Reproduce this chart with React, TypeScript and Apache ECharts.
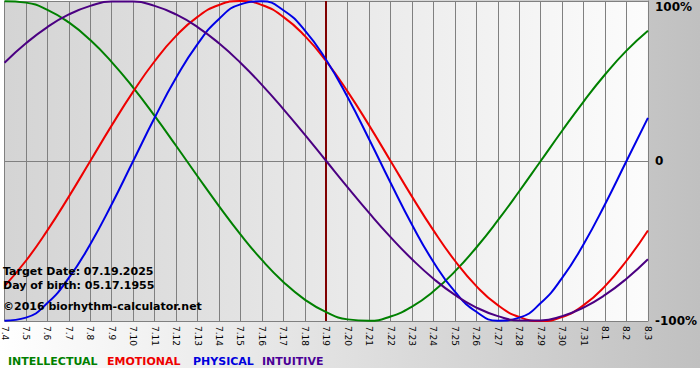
import React, { useEffect, useRef } from "react";
import * as echarts from "echarts";

const days = [
  "7.4", "7.5", "7.6", "7.7", "7.8", "7.9", "7.10", "7.11", "7.12", "7.13", "7.14",
  "7.15", "7.16", "7.17", "7.18", "7.19", "7.20", "7.21", "7.22", "7.23", "7.24",
  "7.25", "7.26", "7.27", "7.28", "7.29", "7.30", "7.31", "8.1", "8.2", "8.3",
];

const intellectual = [
  99.89, 98.98, 94.5, 86.6, 75.57, 61.82, 45.82, 28.17, 9.51, -9.51, -28.17,
  -45.82, -61.82, -75.57, -86.6, -94.5, -98.98, -99.89, -97.18, -90.96, -81.46,
  -69.01, -54.06, -37.17, -18.93, 0, 18.93, 37.17, 54.06, 69.01, 81.46,
];

const emotional = [
  -78.18, -62.35, -43.39, -22.25, 0, 22.25, 43.39, 62.35, 78.18, 90.1, 97.49,
  100, 97.49, 90.1, 78.18, 62.35, 43.39, 22.25, 0, -22.25, -43.39,
  -62.35, -78.18, -90.1, -97.49, -100, -97.49, -90.1, -78.18, -62.35, -43.39,
];

const physical = [
  -99.77, -97.91, -88.79, -73.08, -51.96, -26.98, 0, 26.98, 51.96, 73.08, 88.79,
  97.91, 99.77, 94.23, 81.7, 63.11, 39.84, 13.62, -13.62, -39.84, -63.11,
  -81.7, -94.23, -99.77, -97.91, -88.79, -73.08, -51.96, -26.98, 0, 26.98,
];

const intuitive = [
  61.42, 73.57, 83.72, 91.58, 96.94, 99.66, 99.66, 96.94, 91.58, 83.72, 73.57,
  61.42, 47.59, 32.47, 16.46, 0, -16.46, -32.47, -47.59, -61.42, -73.57,
  -83.72, -91.58, -96.94, -99.66, -99.66, -96.94, -91.58, -83.72, -73.57, -61.42,
];

const targetDay = "7.19";
const infoLines = ["Target Date: 07.19.2025", "Day of birth: 05.17.1955"];
const copyright = "\u00a92016 biorhythm-calculator.net";
const legendNames = ["INTELLECTUAL", "EMOTIONAL", "PHYSICAL", "INTUITIVE"];
const colors = ["#008000", "#ee0000", "#0000e6", "#4b0082"];
const legendTextColors = ["#008000", "#ee0000", "#0000dd", "#4b0096"];

const FONT = "DejaVu Sans";

export default function App() {
  const ref = useRef<HTMLDivElement>(null);
  useEffect(() => {
    document.body.style.margin = "0";
    if (!ref.current) return;
    const chart = echarts.init(ref.current, null, { renderer: "svg" });
    const seriesData = [intellectual, emotional, physical, intuitive];
    const series: any[] = seriesData.map((d, i) => ({
      type: "line",
      name: legendNames[i],
      data: d,
      smooth: true,
      symbol: "none",
      lineStyle: { color: colors[i], width: 2, join: "round" },
      z: 3 + i,
    }));
    series[0].markLine = {
      silent: true,
      symbol: "none",
      label: { show: false },
      lineStyle: { color: "#800000", width: 2, type: "solid" },
      data: [{ xAxis: targetDay }],
      z: 2,
    };
    const legendX = [8, 107, 193, 262];
    chart.setOption({
      animation: false,
      backgroundColor: "transparent",
      grid: {
        left: 1,
        top: 1,
        right: 49,
        bottom: 59,
        show: true,
        borderWidth: 0,
        backgroundColor: new echarts.graphic.LinearGradient(0, 0, 1, 0, [
          { offset: 0, color: "#d4d4d4" },
          { offset: 1, color: "#fcfcfc" },
        ]),
      },
      xAxis: {
        type: "category",
        boundaryGap: false,
        data: days,
        axisLine: { show: true, lineStyle: { color: "#808080", width: 1 } },
        axisTick: { show: true, length: 4, interval: 0, lineStyle: { color: "#808080" } },
        splitLine: { show: true, interval: 0, lineStyle: { color: "#808080", width: 1 } },
        axisLabel: {
          interval: 0,
          rotate: -90,
          fontSize: 9,
          color: "#000",
          fontFamily: FONT,
          margin: 5,
        },
      },
      yAxis: {
        type: "value",
        position: "right",
        min: -100,
        max: 100,
        interval: 100,
        axisLine: { show: true, lineStyle: { color: "#808080", width: 1 } },
        axisTick: { show: false },
        splitLine: { show: true, lineStyle: { color: "#808080", width: 1 } },
        axisLabel: {
          formatter: (v: number) => (v === 0 ? "0" : v + "%"),
          color: "#000",
          fontWeight: "bold",
          fontSize: 12,
          fontFamily: FONT,
          margin: 7,
          verticalAlignMaxLabel: "top",
        },
      },
      graphic: [
        {
          type: "text",
          left: 3,
          top: 266,
          z: 100,
          style: { text: infoLines[0], font: `bold 11px "${FONT}"`, fill: "#000" },
        },
        {
          type: "text",
          left: 3,
          top: 280,
          z: 100,
          style: { text: infoLines[1], font: `bold 11px "${FONT}"`, fill: "#000" },
        },
        {
          type: "text",
          left: 3,
          top: 301,
          z: 100,
          style: { text: copyright, font: `bold 11px "${FONT}"`, fill: "#000" },
        },
        ...legendNames.map((n, i) => ({
          type: "text",
          left: legendX[i],
          top: 356,
          z: 100,
          style: { text: n, font: `bold 11px "${FONT}"`, fill: legendTextColors[i] },
        })),
      ],
      series,
    });
    return () => chart.dispose();
  }, []);
  return (
    <div style={{ position: "fixed", left: 0, top: 0, width: 700, height: 380, background: "#ffffff" }}>
      <div
        style={{
          position: "absolute",
          left: 0,
          top: 0,
          width: 700,
          height: 368,
          background: "linear-gradient(to right, #ffffff, #c0c0c0)",
        }}
      />
      <div ref={ref} style={{ position: "absolute", left: 0, top: 0, width: 700, height: 380 }} />
    </div>
  );
}
